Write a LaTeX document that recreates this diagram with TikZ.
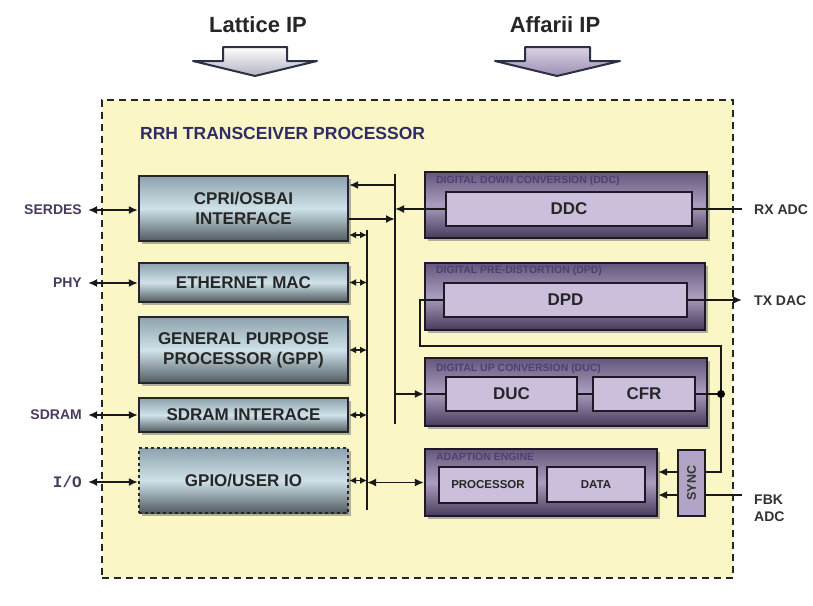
\documentclass[tikz,border=0pt]{standalone}
\usepackage{fontspec}
\setmainfont{Liberation Sans}
\newfontfamily\iofont{Liberation Mono}
\usetikzlibrary{shadows,arrows.meta}

\definecolor{paper}{HTML}{FAF6C6}
\definecolor{lbTop}{HTML}{8DA2AD}
\definecolor{lbMid}{HTML}{CFE2E9}
\definecolor{lbBot}{HTML}{4F5A60}
\definecolor{ppTop}{HTML}{65577B}
\definecolor{ppMid}{HTML}{AB9DBF}
\definecolor{ppBot}{HTML}{473B5A}
\definecolor{ppIn}{HTML}{CBBFDB}
\definecolor{ppText}{HTML}{4F3F73}
\definecolor{pdark}{HTML}{1E1828}
\definecolor{extc}{HTML}{4A3B5E}
\definecolor{rrhc}{HTML}{2F2B66}
\definecolor{ipline}{HTML}{2B3046}

\begin{document}
\begin{tikzpicture}[x=1pt,y=-1pt]

      \tikzset{
        outer/.style={draw=black!85, line width=2pt, dash pattern=on 7pt off 5pt, fill=paper},
        lblk/.style={draw=black!85, line width=2.2pt, top color=lbTop, bottom color=lbBot, middle color=lbMid,
          drop shadow={shadow xshift=3pt, shadow yshift=-3pt, fill=black!50, opacity=.6},
          font=\bfseries\fontsize{17}{20}\selectfont, align=center, text=black!85, inner sep=0pt},
        pblk/.style={draw=pdark, line width=2.2pt, top color=ppTop, bottom color=ppBot, middle color=ppMid,
          drop shadow={shadow xshift=3pt, shadow yshift=-3pt, fill=black!50, opacity=.6}, inner sep=0pt},
        pin/.style={draw=pdark, line width=1.8pt, fill=ppIn, font=\bfseries\fontsize{17}{20}\selectfont,
          text=black!85, inner sep=0pt},
        psmall/.style={pin, font=\bfseries\fontsize{11.5}{13}\selectfont},
        ptitle/.style={anchor=west, inner sep=0pt, text=ppText, font=\bfseries\fontsize{10.5}{12}\selectfont},
        extl/.style={anchor=east, inner xsep=6pt, inner ysep=2pt, text=extc, font=\bfseries\fontsize{14}{16}\selectfont},
        extr/.style={anchor=west, inner xsep=12pt, inner ysep=2pt, text=black!80, align=left,
          font=\bfseries\fontsize{14}{16.5}\selectfont},
        iparrow/.style={draw=ipline, line width=2pt, line join=round},
        wire/.style={line width=1.8pt, draw=black!90},
        bus/.style={line width=2pt, draw=black!90},
        link/.style={wire, -{Latex[length=9pt,width=8pt]}},
        dlink/.style={wire, {Latex[length=9pt,width=8pt]}-{Latex[length=9pt,width=8pt]}},
        slink/.style={wire, {Latex[length=7pt,width=7pt]}-{Latex[length=7pt,width=7pt]}}
      }

      \fill[white] (0,0) rectangle (813,605);
      \useasboundingbox (0,0) rectangle (813,605);

%% IP arrows
      \node[font=\bfseries\fontsize{22}{24}\selectfont, text=black!85] (lattice) at (258,25) {Lattice IP};
      \node[font=\bfseries\fontsize{22}{24}\selectfont, text=black!85] (affarii) at (555,25) {Affarii IP};
      \draw[iparrow, top color=white, bottom color=blue!10!gray!55]
        (223,47) -- (287,47) -- (287,61) -- (317,61) -- (255,76) -- (193,61) -- (223,61) -- cycle;
      \draw[iparrow, top color=ppIn!70!white, bottom color=ppMid!80!ppTop]
        (525,47) -- (590,47) -- (590,61) -- (620,61) -- (557,76) -- (495,61) -- (525,61) -- cycle;

%% Processor frame
      \node[outer, minimum width=631pt, minimum height=478pt] (rrhbox) at (417.5,339) {};
      \node[anchor=west, inner sep=0pt, text=rrhc, font=\bfseries\fontsize{17.5}{20}\selectfont] (rrh) at (140,133) {RRH TRANSCEIVER PROCESSOR};

%% Lattice side
      \node[lblk, minimum width=209pt, minimum height=65pt] (cpri) at (243.5,208.5) {CPRI/OSBAI\\INTERFACE};
      \node[lblk, minimum width=209pt, minimum height=39pt] (eth) at (243.5,282.5) {ETHERNET MAC};
      \node[lblk, minimum width=209pt, minimum height=66pt] (gpp) at (243.5,350) {GENERAL PURPOSE\\PROCESSOR (GPP)};
      \node[lblk, minimum width=209pt, minimum height=34pt] (sdram) at (243.5,415) {SDRAM INTERACE};
      \node[lblk, dashed, minimum width=209pt, minimum height=65pt] (gpio) at (243.5,480.5) {GPIO/USER IO};

%% Affarii side
      \node[pblk, minimum width=282pt, minimum height=66pt] (ddcbox) at (566,205) {};
      \node[ptitle] (ddctitle) at ([xshift=12pt,yshift=-10pt]ddcbox.north west) {DIGITAL DOWN CONVERSION (DDC)};
      \node[pin, minimum width=246pt, minimum height=34pt] (ddc) at (569,209) {DDC};

      \node[pblk, minimum width=280pt, minimum height=67pt] (dpdbox) at (565,296.5) {};
      \node[ptitle] (dpdtitle) at ([xshift=12pt,yshift=-9pt]dpdbox.north west) {DIGITAL PRE-DISTORTION (DPD)};
      \node[pin, minimum width=243pt, minimum height=34pt] (dpd) at (565.5,300) {DPD};

      \node[pblk, minimum width=282pt, minimum height=68pt] (ducbox) at (566,392) {};
      \node[ptitle] (ductitle) at ([xshift=12pt,yshift=-12pt]ducbox.north west) {DIGITAL UP CONVERSION (DUC)};
      \node[pin, minimum width=131pt, minimum height=34pt] (duc) at (511.5,394) {DUC};
      \node[pin, minimum width=102pt, minimum height=34pt] (cfr) at (644,394) {CFR};

      \node[pblk, minimum width=232pt, minimum height=67pt] (aebox) at (541,482.5) {};
      \node[ptitle] (aetitle) at ([xshift=12pt,yshift=-9pt]aebox.north west) {ADAPTION ENGINE};
      \node[psmall, minimum width=98pt, minimum height=36pt] (proc) at (488,485) {PROCESSOR};
      \node[psmall, minimum width=98pt, minimum height=35pt] (data) at (596,484.5) {DATA};

      \node[draw=pdark, line width=1.8pt, fill=ppMid!80!ppIn, minimum width=27pt, minimum height=66pt, inner sep=0pt] (sync) at (691.5,483) {};
      \node[rotate=90, text=black!80, font=\bfseries\fontsize{12.5}{14}\selectfont] (synctext) at (sync) {SYNC};

%% Outside signals
      \node[extl] (serdes) at (88,210) {SERDES};
      \node[extl] (phy) at (88,283) {PHY};
      \node[extl] (sdramio) at (88,415) {SDRAM};
      \node[extl, font=\iofont\bfseries\fontsize{16}{18}\selectfont] (io) at (88,482) {I/O};
      \node[extr] (rxadc) at (742,210) {RX ADC};
      \node[extr] (txdac) at (742,301) {TX DAC};
      \node[extr] (fbk) at (742,508) {FBK\\ADC};

%Buses
      \coordinate (b1t) at (367,230);
      \coordinate (b1b) at (367,510);
      \coordinate (b2t) at (395,174);
      \coordinate (b2b) at (395,424);
      \draw[bus] (b1t) -- (b1b);
      \draw[bus] (b2t) -- (b2b);

%Edges
      \draw[dlink] (serdes.east) -- (serdes.east -| cpri.west);
      \draw[dlink] (phy.east) -- (phy.east -| eth.west);
      \draw[dlink] (sdramio.east) -- (sdramio.east -| sdram.west);
      \draw[dlink] (io.east) -- (io.east -| gpio.west);

      \coordinate (cpriport) at ([yshift=-26.5pt]cpri.east);
      \coordinate (cpriin) at ([yshift=23.5pt]cpri.east);
      \coordinate (cpriout) at ([yshift=-10.5pt]cpri.east);
      \draw[slink] (cpriport) -- (cpriport -| b1t);
      \foreach \blk in {eth,gpp,sdram,gpio}
        \draw[slink] (\blk.east) -- (\blk.east -| b1t);
      \draw[link] (cpriin -| b2t) -- (cpriin);
      \draw[link] (cpriout) -- (cpriout -| b2t);

      \draw[link] (ddc.west) -- (ddc.west -| b2t);
      \draw[wire] (ddc.east) -- (ddc.east -| rxadc.west);
      \draw[link] (dpd.east) -- (dpd.east -| txdac.west);
      \draw[link] (duc.west -| b2t) -- (duc.west -| ducbox.west);
      \draw[wire] (duc.west -| ducbox.west) -- (duc.west);
      \draw[wire] (duc) -- (cfr);
      \draw[dlink] (aebox.west -| b1t) -- (aebox.west);

      % feedback loop round the DUC
      \coordinate (loopl) at (420,346);
      \coordinate (loopr) at (721,346);
      \coordinate (synchi) at ([yshift=11pt]sync.east);
      \coordinate (synclo) at ([yshift=-12pt]sync.east);
      \coordinate (syncwhi) at ([yshift=11pt]sync.west);
      \coordinate (syncwlo) at ([yshift=-12pt]sync.west);
      \draw[wire] (dpd.west) -| (loopl) -- (loopr) |- (synchi);
      \draw[wire] (cfr.east) -- (cfr.east -| loopr);
      \fill (cfr.east -| loopr) circle (4pt);
      \draw[wire] (synclo) -- (synclo -| fbk.west);
      \draw[link] (syncwhi) -- (syncwhi -| aebox.east);
      \draw[link] (syncwlo) -- (syncwlo -| aebox.east);

\end{tikzpicture}
\end{document}
